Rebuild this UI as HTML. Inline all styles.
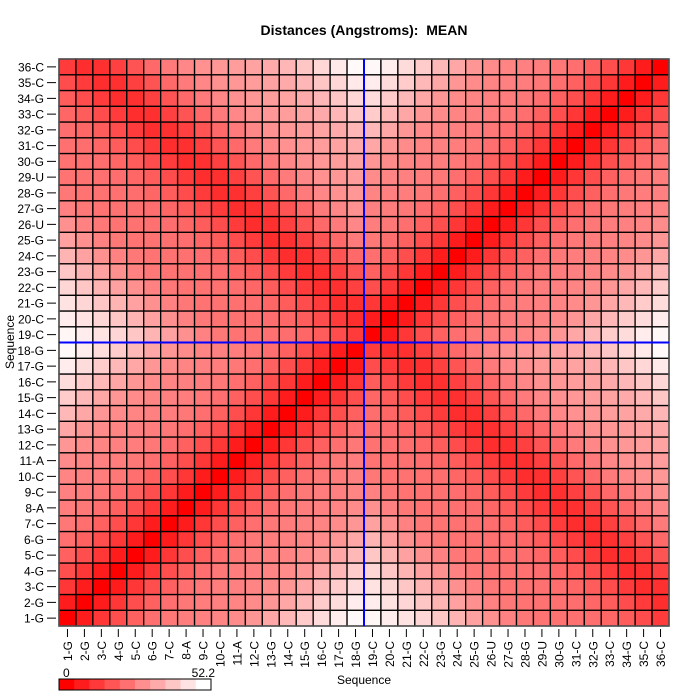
<!DOCTYPE html>
<html><head><meta charset="utf-8"><style>body{margin:0;background:#fff}svg{display:block}text{font-family:"Liberation Sans",sans-serif}</style></head>
<body><svg id="s" width="700" height="700" xmlns="http://www.w3.org/2000/svg"></svg>
<script>
const seq="GGCGCGCACCACGCGCGGCCGCGCGUGGUGCGCGCC".split("");
const names=[];for(let i=0;i<36;i++)names.push((i+1)+"-"+seq[i]);
const X0=59,X1=669,Y0=59,Y1=626,N=36,cw=(X1-X0)/N,ch=(Y1-Y0)/N;
function pos(n){
 const r=9,tw=32.7*Math.PI/180;
 if(n<=18){return [r*Math.cos(tw*n),r*Math.sin(tw*n),2.8*n,0];}
 const k=37-n;const a=tw*k+60*Math.PI/180;return [r*Math.cos(a),r*Math.sin(a),2.8*k,8];
}
function dist(a,b){if(a==b)return 0;const p=pos(a),q=pos(b);const c=(p[3]!=q[3])?8:0;
 return Math.sqrt((p[0]-q[0])**2+(p[1]-q[1])**2+(p[2]-q[2])**2+c*c);}
let h='<text x="364" y="35" text-anchor="middle" font-size="14" font-weight="bold">Distances (Angstroms):&#160; MEAN</text>';
for(let i=1;i<=N;i++)for(let j=1;j<=N;j++){
 let v=Math.min(1,dist(i,j)/52.2);const g=Math.round(255*v);
 const x=X0+(i-1)*cw,y=Y1-j*ch;
 h+=`<rect x="${x.toFixed(2)}" y="${y.toFixed(2)}" width="${cw.toFixed(2)}" height="${ch.toFixed(2)}" fill="rgb(255,${g},${g})" stroke="#000" stroke-width="1.3"/>`;
}
h+=`<rect x="${X0}" y="${Y0}" width="${X1-X0}" height="${Y1-Y0}" fill="none" stroke="#555" stroke-width="1.5"/>`;
const vx=X0+18*cw,hy=Y1-18*ch;
h+=`<line x1="${vx}" y1="${Y0}" x2="${vx}" y2="${Y1}" stroke="#00f" stroke-width="2"/><line x1="${X0}" y1="${hy}" x2="${X1}" y2="${hy}" stroke="#00f" stroke-width="2"/>`;
for(let i=0;i<N;i++){
 const y=Y1-(i+0.5)*ch;
 h+=`<line x1="47" y1="${y}" x2="56" y2="${y}" stroke="#000"/><text x="44" y="${y+4.5}" text-anchor="end" font-size="12">${names[i]}</text>`;
 const x=X0+(i+0.5)*cw;
 h+=`<line x1="${x}" y1="629" x2="${x}" y2="637" stroke="#000"/><text transform="translate(${x+4.5},641) rotate(-90)" text-anchor="end" font-size="12">${names[i]}</text>`;
}
h+='<text x="364" y="684" text-anchor="middle" font-size="12">Sequence</text>';
h+='<text transform="translate(14,342) rotate(-90)" text-anchor="middle" font-size="12">Sequence</text>';
for(let b=0;b<10;b++){const g=Math.round(255*b/9);h+=`<rect x="${59+b*15.2}" y="679" width="15.6" height="11" fill="rgb(255,${g},${g})"/>`;}
h+='<rect x="59" y="679" width="152" height="11" fill="none" stroke="#000"/>';
h+='<text x="63" y="677" font-size="12">0</text><text x="215" y="677" text-anchor="end" font-size="12">52.2</text>';
document.getElementById('s').innerHTML=h;
</script></body></html>
